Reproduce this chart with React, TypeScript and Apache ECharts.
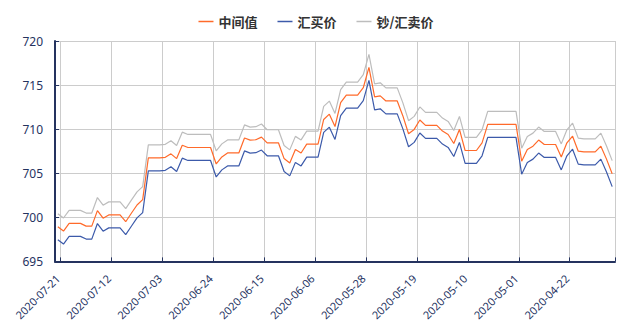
import React, { useEffect, useRef } from "react";
import * as echarts from "echarts";

const categories = [
  "2020-07-21","2020-07-20","2020-07-19","2020-07-18","2020-07-17","2020-07-16","2020-07-15","2020-07-14","2020-07-13","2020-07-12",
  "2020-07-11","2020-07-10","2020-07-09","2020-07-08","2020-07-07","2020-07-06","2020-07-05","2020-07-04","2020-07-03","2020-07-02",
  "2020-07-01","2020-06-30","2020-06-29","2020-06-28","2020-06-27","2020-06-26","2020-06-25","2020-06-24","2020-06-23","2020-06-22",
  "2020-06-21","2020-06-20","2020-06-19","2020-06-18","2020-06-17","2020-06-16","2020-06-15","2020-06-14","2020-06-13","2020-06-12",
  "2020-06-11","2020-06-10","2020-06-09","2020-06-08","2020-06-07","2020-06-06","2020-06-05","2020-06-04","2020-06-03","2020-06-02",
  "2020-06-01","2020-05-31","2020-05-30","2020-05-29","2020-05-28","2020-05-27","2020-05-26","2020-05-25","2020-05-24","2020-05-23",
  "2020-05-22","2020-05-21","2020-05-20","2020-05-19","2020-05-18","2020-05-17","2020-05-16","2020-05-15","2020-05-14","2020-05-13",
  "2020-05-12","2020-05-11","2020-05-10","2020-05-09","2020-05-08","2020-05-07","2020-05-06","2020-05-05","2020-05-04","2020-05-03",
  "2020-05-02","2020-05-01","2020-04-30","2020-04-29","2020-04-28","2020-04-27","2020-04-26","2020-04-25","2020-04-24","2020-04-23",
  "2020-04-22","2020-04-21","2020-04-20","2020-04-19","2020-04-18","2020-04-17","2020-04-16","2020-04-15","2020-04-14"
];

const midValues = [
  698.93,698.44,699.31,699.31,699.31,699.00,699.00,700.76,699.90,700.27,
  700.27,700.27,699.50,700.46,701.40,702.00,706.74,706.74,706.74,706.80,
  707.20,706.66,708.18,707.92,707.92,707.92,707.92,707.92,706.05,706.85,
  707.30,707.30,707.30,709.00,708.75,708.80,709.10,708.45,708.45,708.45,
  706.66,706.17,707.70,707.30,708.30,708.30,708.30,711.10,711.70,710.30,
  713.00,713.86,713.86,713.86,714.70,717.00,713.66,713.78,713.20,713.20,
  713.20,711.50,709.48,709.97,711.04,710.43,710.43,710.43,709.78,709.40,
  708.37,709.97,707.58,707.58,707.58,708.45,710.54,710.54,710.54,710.54,
  710.54,710.54,706.36,707.69,708.07,708.76,708.26,708.26,708.26,706.85,
  708.45,709.20,707.50,707.42,707.42,707.42,708.07,706.60,704.95
];

const buyValues = [
  697.46,696.97,697.84,697.84,697.84,697.53,697.53,699.29,698.43,698.80,
  698.80,698.80,698.03,698.99,699.93,700.53,705.27,705.27,705.27,705.33,
  705.73,705.19,706.71,706.45,706.45,706.45,706.45,706.45,704.58,705.38,
  705.83,705.83,705.83,707.53,707.28,707.33,707.63,706.98,706.98,706.98,
  705.19,704.70,706.23,705.83,706.83,706.83,706.83,709.63,710.23,708.83,
  711.53,712.39,712.39,712.39,713.23,715.53,712.19,712.31,711.73,711.73,
  711.73,710.03,708.01,708.50,709.57,708.96,708.96,708.96,708.31,707.93,
  706.90,708.50,706.11,706.11,706.11,706.98,709.07,709.07,709.07,709.07,
  709.07,709.07,704.89,706.22,706.60,707.29,706.79,706.79,706.79,705.38,
  706.98,707.73,706.03,705.95,705.95,705.95,706.60,705.13,703.48
];

const sellValues = [
  700.41,699.92,700.79,700.79,700.79,700.48,700.48,702.24,701.38,701.75,
  701.75,701.75,700.98,701.94,702.88,703.48,708.22,708.22,708.22,708.28,
  708.68,708.14,709.66,709.40,709.40,709.40,709.40,709.40,707.53,708.33,
  708.78,708.78,708.78,710.48,710.23,710.28,710.58,709.93,709.93,709.93,
  708.14,707.65,709.18,708.78,709.78,709.78,709.78,712.58,713.18,711.78,
  714.48,715.34,715.34,715.34,716.18,718.48,715.14,715.26,714.68,714.68,
  714.68,712.98,710.96,711.45,712.52,711.91,711.91,711.91,711.26,710.88,
  709.85,711.45,709.06,709.06,709.06,709.93,712.02,712.02,712.02,712.02,
  712.02,712.02,707.84,709.17,709.55,710.24,709.74,709.74,709.74,708.33,
  709.93,710.68,708.98,708.90,708.90,708.90,709.55,708.08,706.43
];

const seriesNames = ["中间值", "汇买价", "钞/汇卖价"];
const seriesColors = ["#ff6a2a", "#3c5aaa", "#bdbdbd"];

const AXIS_COLOR = "#25335f";

export default function App() {
  const ref = useRef<HTMLDivElement>(null);
  useEffect(() => {
    if (!ref.current) return;
    const chart = echarts.init(ref.current, null, { renderer: "svg" });
    const tickFn = (index: number) => index % 9 === 1;
    const data = [midValues, buyValues, sellValues];
    chart.setOption({
      animation: false,
      backgroundColor: "#ffffff",
      legend: {
        top: 10,
        left: "center",
        icon: "rect",
        itemWidth: 15,
        itemHeight: 1.5,
        itemGap: 20,
        textStyle: {
          fontFamily: "Noto Sans CJK SC",
          fontSize: 13,
          fontWeight: "bold",
          color: "#333333",
        },
        data: seriesNames,
      },
      grid: { left: 55, right: 17, top: 41, bottom: 61.5, containLabel: false },
      xAxis: {
        type: "category",
        data: categories,
        boundaryGap: true,
        axisLine: { lineStyle: { color: AXIS_COLOR, width: 2 } },
        axisTick: { show: true, inside: true, length: 4, interval: tickFn, lineStyle: { color: AXIS_COLOR } },
        splitLine: { show: true, interval: tickFn, lineStyle: { color: "#cccccc", width: 1 } },
        axisLabel: {
          interval: 8,
          rotate: 45,
          margin: 15,
          fontSize: 11,
          fontFamily: "Noto Sans",
          color: AXIS_COLOR,
        },
      },
      yAxis: {
        type: "value",
        min: 695,
        max: 720,
        interval: 5,
        axisLine: { show: true, lineStyle: { color: AXIS_COLOR, width: 2 } },
        axisTick: { show: true, inside: true, length: 4, lineStyle: { color: AXIS_COLOR } },
        splitLine: { show: true, lineStyle: { color: "#cccccc", width: 1 } },
        axisLabel: { margin: 12, fontSize: 12, fontFamily: "Noto Sans", color: AXIS_COLOR },
      },
      series: seriesNames.map((name, k) => ({
        name,
        type: "line",
        data: data[k],
        symbol: "none",
        color: seriesColors[k],
        lineStyle: { color: seriesColors[k], width: 1.2 },
      })),
    });
    return () => chart.dispose();
  }, []);
  return <div ref={ref} style={{ width: 632, height: 323, position: "absolute", left: 0, top: 0 }} />;
}
